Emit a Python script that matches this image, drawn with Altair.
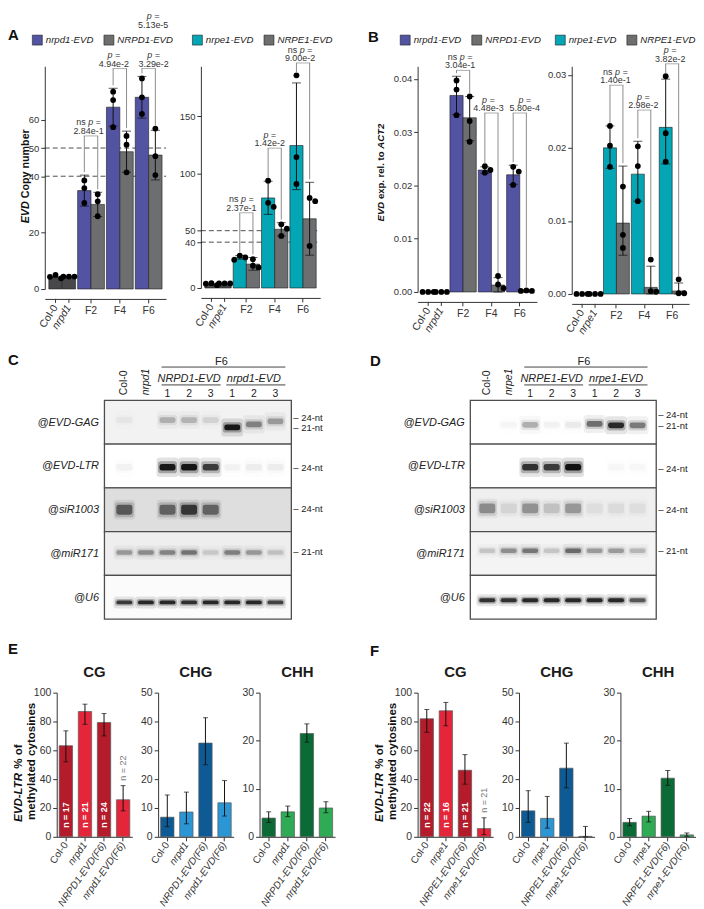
import json
import altair as alt
import pandas as pd

FONT = "Liberation Sans"
INK = "#333333"
DARK = "#111111"

# ======================= Panels A and B (bar + dot plots) =======================
GROUPS = ["ctrl", "F2", "F4", "F6"]
SLOT_GROUP = ["ctrl", "ctrl", "F2", "F2", "F4", "F4", "F6", "F6"]
SLOT_SIDE = [0, 1, 0, 1, 0, 1, 0, 1]

# A left: EVD copy number (nrpd1)
A1_geno = ["Col-0", "nrpd1", "nrpd1-EVD", "NRPD1-EVD", "nrpd1-EVD", "NRPD1-EVD", "nrpd1-EVD", "NRPD1-EVD"]
A1_mean = [4.3, 4.3, 34.9, 30.0, 64.5, 48.7, 68.0, 47.5]
A1_lo = [None, None, 29.4, 25.7, 57.8, 41.4, 60.6, 38.7]
A1_hi = [None, None, 40.4, 34.3, 71.2, 56.0, 75.4, 56.3]
A1_pts = [[5.0, 3.8, 4.3], [4.4, 4.4, 4.4], [38.5, 35.8, 30.5], [33.6, 31.1, 25.8],
          [70.0, 67.0, 57.4], [54.3, 51.2, 41.4], [74.7, 68.0, 62.1], [56.9, 47.1, 40.4]]
A1_br_group = ["F2", "F4", "F6"]
A1_br_top = [54.3, 78.2, 78.2]
A1_br_ns = [True, False, False]
A1_br_p = ["2.84e-1", "4.94e-2", "3.29e-2"]
A1_br_dx = [-2.5, -6.0, 5.0]
A1_dashed = [40, 50]
A1_ticks = [0, 20, 40, 50, 60]

# A right: EVD copy number (nrpe1)
A2_geno = ["Col-0", "nrpe1", "nrpe1-EVD", "NRPE1-EVD", "nrpe1-EVD", "NRPE1-EVD", "nrpe1-EVD", "NRPE1-EVD"]
A2_mean = [3.5, 4.0, 26.8, 20.8, 78.6, 51.2, 124.3, 60.4]
A2_lo = [None, None, 25.2, 15.5, 64.2, 45.4, 85.8, 28.6]
A2_hi = [None, None, 28.4, 26.6, 93.1, 57.0, 178.9, 92.2]
A2_pts = [[4.2, 2.5, 3.8], [4.0, 4.0, 4.0], [28.3, 26.6, 24.6], [25.1, 19.4, 17.9],
          [93.6, 74.3, 70.8], [55.5, 51.7, 45.4], [185.5, 114.2, 90.8], [78.6, 75.7, 36.7]]
A2_br_group = ["F2", "F4", "F6"]
A2_br_top = [65.6, 122.0, 196.3]
A2_br_ns = [True, False, True]
A2_br_p = ["2.37e-1", "1.42e-2", "9.00e-2"]
A2_br_dx = [-5.0, -5.0, -3.0]
A2_dashed = [40, 50]
A2_ticks = [0, 40, 50, 100, 150]

# B left: EVD expression relative to ACT2 (nrpd1)
B1_geno = A1_geno
B1_mean = [0.0, 0.0, 0.0369, 0.0327, 0.0229, 0.0013, 0.0220, 0.0002]
B1_lo = [None, None, 0.0333, 0.0284, 0.0223, 0.0, 0.0202, 0.0]
B1_hi = [None, None, 0.0405, 0.0367, 0.0235, 0.0027, 0.0238, 0.0004]
B1_pts = [[0, 0, 0], [0, 0, 0], [0.0397, 0.0380, 0.0332], [0.0367, 0.0321, 0.0282],
          [0.0236, 0.0229, 0.0224], [0.0030, 0.0014, 0.0007], [0.0235, 0.0226, 0.0201], [0.0003, 0.0002, 0.0002]]
B1_br_group = ["F2", "F4", "F6"]
B1_br_top = [0.0416, 0.0336, 0.0336]
B1_br_ns = [True, False, False]
B1_br_p = ["3.04e-1", "4.48e-3", "5.80e-4"]
B1_br_dx = [-3.0, -3.0, 5.0]
B1_ticks = [0, 0.01, 0.02, 0.03, 0.04]

# B right: EVD expression relative to ACT2 (nrpe1)
B2_geno = A2_geno
B2_mean = [0.0, 0.0, 0.0200, 0.0097, 0.0164, 0.0009, 0.0228, 0.0004]
B2_lo = [None, None, 0.0172, 0.0053, 0.0127, 0.0, 0.0178, 0.0]
B2_hi = [None, None, 0.0230, 0.0175, 0.0209, 0.0038, 0.0294, 0.0015]
B2_pts = [[0, 0, 0], [0, 0, 0], [0.0230, 0.0203, 0.0174], [0.0147, 0.0081, 0.0063],
          [0.0202, 0.0175, 0.0127], [0.0047, 0.0004, 0.0003], [0.0298, 0.0220, 0.0181], [0.0020, 0.0001, 0.0001]]
B2_br_group = ["F2", "F4", "F6"]
B2_br_top = [0.02857, 0.02517, 0.0315]
B2_br_ns = [True, False, False]
B2_br_p = ["1.40e-1", "2.98e-2", "3.82e-2"]
B2_br_dx = [-1.0, -1.0, -2.0]
B2_ticks = [0, 0.01, 0.02, 0.03]

# ======================= Panels C and D (northern blots) =======================
PROBES = ["@EVD-GAG", "@EVD-LTR", "@siR1003", "@miR171", "@U6"]
LANES = ["L0", "L1", "L2", "L3", "L4", "L5", "L6", "L7"]
LANE_NUM = ["", "", "1", "2", "3", "1", "2", "3"]

C_head = ["Col-0", "nrpd1"]
C_groups = ["NRPD1-EVD", "nrpd1-EVD"]
C_int = {
    "@EVD-GAG": [0.04, 0.0, 0.22, 0.2, 0.1, 0.95, 0.4, 0.3],
    "@EVD-LTR": [0.04, 0.0, 0.95, 0.97, 0.75, 0.04, 0.05, 0.05],
    "@siR1003": [0.55, 0.0, 0.5, 0.75, 0.5, 0.0, 0.0, 0.0],
    "@miR171": [0.3, 0.35, 0.38, 0.45, 0.12, 0.4, 0.3, 0.15],
    "@U6": [0.75, 0.85, 0.85, 0.8, 0.85, 0.85, 0.85, 0.7],
}
C_gag_pos = [0.45, 0.45, 0.45, 0.45, 0.45, 0.62, 0.55, 0.48]
C_pos = {"@EVD-LTR": 0.53, "@siR1003": 0.5, "@miR171": 0.48, "@U6": 0.62}
C_mk_probe = [0, 0, 1, 2, 3]
C_mk_pos = [0.40, 0.63, 0.54, 0.49, 0.47]
C_mk_text = ["24-nt", "21-nt", "24-nt", "24-nt", "21-nt"]

D_head = ["Col-0", "nrpe1"]
D_groups = ["NRPE1-EVD", "nrpe1-EVD"]
D_int = {
    "@EVD-GAG": [0.0, 0.03, 0.25, 0.04, 0.06, 0.5, 0.85, 0.45],
    "@EVD-LTR": [0.0, 0.0, 0.8, 0.75, 1.0, 0.0, 0.02, 0.02],
    "@siR1003": [0.35, 0.08, 0.32, 0.15, 0.3, 0.05, 0.06, 0.05],
    "@miR171": [0.15, 0.35, 0.45, 0.15, 0.5, 0.3, 0.3, 0.2],
    "@U6": [0.8, 0.8, 0.85, 0.85, 0.85, 0.85, 0.85, 0.6],
}
D_gag_pos = [0.56, 0.56, 0.56, 0.56, 0.56, 0.54, 0.57, 0.57]
D_pos = {"@EVD-LTR": 0.53, "@siR1003": 0.47, "@miR171": 0.44, "@U6": 0.57}
D_mk_probe = [0, 0, 1, 2, 3]
D_mk_pos = [0.33, 0.58, 0.57, 0.50, 0.45]
D_mk_text = ["24-nt", "21-nt", "24-nt", "24-nt", "21-nt"]

# ======================= Panels E and F (methylation) =======================
E_geno = ["Col-0", "nrpd1", "NRPD1-EVD(F6)", "nrpd1-EVD(F6)"]
E_CG = [63.2, 86.9, 79.3, 25.7]
E_CG_lo = [52.0, 78.0, 70.0, 18.0]
E_CG_hi = [73.5, 92.0, 85.5, 35.5]
E_CHG = [6.8, 8.6, 32.5, 11.8]
E_CHG_lo = [3.5, 4.5, 25.0, 7.2]
E_CHG_hi = [14.5, 15.5, 41.3, 19.5]
E_CHH = [3.9, 5.2, 21.5, 6.0]
E_CHH_lo = [3.0, 4.2, 19.7, 5.0]
E_CHH_hi = [5.2, 6.4, 23.5, 7.3]
E_n = [17, 21, 24, 22]

F_geno = ["Col-0", "nrpe1", "NRPE1-EVD(F6)", "nrpe1-EVD(F6)"]
F_CG = [81.9, 87.4, 46.2, 5.7]
F_CG_lo = [72.5, 77.0, 36.5, 1.5]
F_CG_hi = [88.3, 93.2, 57.0, 13.2]
F_CHG = [9.0, 6.4, 23.8, 0.15]
F_CHG_lo = [5.0, 3.0, 17.0, 0.0]
F_CHG_hi = [16.0, 14.0, 32.5, 3.6]
F_CHH = [3.0, 4.3, 12.2, 0.4]
F_CHH_lo = [2.3, 3.1, 10.7, 0.1]
F_CHH_hi = [3.8, 5.3, 13.8, 0.8]
F_n = [22, 16, 21, 21]

# ---------------- styles ----------------
COL_CTRL = "#48484a"
COL_GREY = "#6d6e70"
COL_BLUE = "#5253a3"
COL_TEAL = "#04a5b4"
CG_COLS = ["#b41c2c", "#e5263a", "#b41c2c", "#e5263a"]
CHG_COLS = ["#0d5a94", "#2c96d4", "#0d5a94", "#2c96d4"]
CHH_COLS = ["#0b6b37", "#2faa55", "#0b6b37", "#2faa55"]
C_bg = ["#f2f2f2", "#ffffff", "#dedede", "#eeeeee", "#fbfbfb"]
D_bg = ["#ffffff", "#ffffff", "#efefef", "#f4f4f4", "#ffffff"]
# band half-height (relative to band half-width) per probe: GAG, LTR, siR1003, miR171, U6
BAND_HH = [0.36, 0.42, 0.62, 0.28, 0.24]

BOLD_W = {" ": .278, ".": .278, "%": .889, "-": .333, "2": .556, "A": .722, "C": .722, "D": .722,
          "E": .667, "L": .611, "R": .722, "T": .611, "V": .667, "a": .556, "b": .611, "c": .556,
          "d": .611, "e": .556, "f": .333, "h": .611, "i": .278, "l": .278, "m": .889, "n": .611,
          "o": .611, "p": .611, "r": .389, "s": .556, "t": .333, "u": .611, "x": .556, "y": .556}


def text_w(s, size):
    return sum(BOLD_W.get(c, 0.6) for c in s) * size


def rot_title(parts, x, y_start, size):
    layers = []
    y = y_start
    for k, (text, it) in enumerate(parts):
        if k > 0:
            y -= 0.278 * size
        layers.append(
            alt.Chart(pd.DataFrame({"t": [text]})).mark_text(
                angle=270, align="left", baseline="middle", fontSize=size, fontWeight="bold",
                fontStyle="italic" if it else "normal", color=DARK)
            .encode(text="t:N", x=alt.value(x), y=alt.value(y)))
        y -= text_w(text, size)
    return layers


def letter(t, x, y):
    return alt.Chart(pd.DataFrame({"t": [t]})).mark_text(
        fontSize=15, fontWeight="bold", align="left", baseline="alphabetic", color=DARK
    ).encode(text="t:N", x=alt.value(x), y=alt.value(y))


def bar_panel(geno, mean, lo, hi, pts, mut, wt, mut_color, width, height, ymax, yticks, yfmt,
              dashed, br_group, br_top, br_ns, br_p, br_dx, legend_x, extra):
    pi, po = 0.07, 0.14
    step = width / (len(GROUPS) - pi + 2 * po)
    bw = step * (1 - pi)
    half = bw / 2.0
    pxu = height / ymax
    xo_scale = alt.Scale(domain=[-1, 1], range=[0, bw])
    x_enc = alt.X("grp:N", scale=alt.Scale(domain=GROUPS, paddingInner=pi, paddingOuter=po),
                  axis=alt.Axis(title=None, labelExpr="datum.value == 'ctrl' ? '' : datum.value",
                                labelAngle=0, labelFontSize=10.5, offset=10, tickSize=4,
                                labelPadding=3,
                                tickOpacity={"condition": {"test": "datum.value == 'ctrl'", "value": 0},
                                             "value": 1}))
    y_scale = alt.Scale(domain=[0, ymax], nice=False, zero=True)
    y_axis = alt.Axis(title=None, values=yticks, format=yfmt, labelFontSize=9.5, tickSize=4,
                      labelPadding=2, labelOverlap=False, grid=False)

    def Y(f):
        return alt.Y(f"{f}:Q", scale=y_scale, axis=y_axis)

    def XO(f):
        return alt.XOffset(f"{f}:Q", scale=xo_scale)

    bars = pd.DataFrame({"grp": SLOT_GROUP, "side": SLOT_SIDE, "geno": geno, "mean": mean})
    bars = bars[bars["mean"] > 0]
    dom = [geno[0], geno[1], mut, wt]
    rng = [COL_CTRL, COL_CTRL, mut_color, COL_GREY]
    bar_layer = alt.Chart(bars).mark_bar(stroke="#1e1e1e", strokeWidth=0.6).encode(
        x=x_enc,
        xOffset=alt.XOffset("side:N", scale=alt.Scale(domain=[0, 1], paddingInner=0, paddingOuter=0)),
        y=Y("mean"),
        color=alt.Color("geno:N", scale=alt.Scale(domain=dom, range=rng),
                        legend=alt.Legend(title=None, values=[mut, wt], orient="none",
                                          legendX=legend_x, legendY=-32, direction="horizontal",
                                          symbolType="square", symbolSize=100,
                                          symbolStrokeColor="#1e1e1e", symbolStrokeWidth=0.6,
                                          labelFontSize=9.7, labelFontStyle="italic",
                                          labelColor="#222", labelOffset=3, columnPadding=9,
                                          padding=0)))

    err = pd.DataFrame({"grp": SLOT_GROUP, "xo": [s - 0.5 for s in SLOT_SIDE], "lo": lo, "hi": hi}).dropna()
    err_rule = alt.Chart(err).mark_rule(color=DARK, strokeWidth=1).encode(
        x=x_enc, xOffset=XO("xo"), y=Y("lo"), y2="hi:Q")
    cap_hi = alt.Chart(err).mark_tick(orient="horizontal", size=9, thickness=1, color=DARK).encode(
        x=x_enc, xOffset=XO("xo"), y=Y("hi"))
    cap_lo = alt.Chart(err).mark_tick(orient="horizontal", size=9, thickness=1, color=DARK).encode(
        x=x_enc, xOffset=XO("xo"), y=Y("lo"))

    # simple beeswarm so that overlapping replicate dots sit side by side
    d = 5.6
    prow = []
    for g, s, vals in zip(SLOT_GROUP, SLOT_SIDE, pts):
        placed = []
        for v in vals:
            yy = v * pxu
            for off in [0, d, -d, 2 * d, -2 * d]:
                if all((off - o) ** 2 + (yy - q) ** 2 >= (0.95 * d) ** 2 for o, q in placed):
                    break
            placed.append((off, yy))
            prow.append({"grp": g, "xo": (s - 0.5) + off / half, "val": v})
    pt = pd.DataFrame(prow)
    pt_layer = alt.Chart(pt).mark_circle(size=34, color="#000", opacity=1).encode(
        x=x_enc, xOffset=XO("xo"), y=Y("val"))

    layers = [bar_layer, err_rule, cap_hi, cap_lo, pt_layer]

    if dashed:
        layers.insert(0, alt.Chart(pd.DataFrame({"v": dashed})).mark_rule(
            color="#222", strokeDash=[5, 3], strokeWidth=0.8).encode(
            x=alt.value(0), x2=alt.value(width), y=Y("v")))

    # significance brackets
    gap = 3.0 / pxu
    tops = {}
    for i, (g, s) in enumerate(zip(SLOT_GROUP, SLOT_SIDE)):
        cand = list(pts[i]) + ([hi[i]] if hi[i] is not None else [])
        tops[(g, s)] = max(cand) + gap
    br = pd.DataFrame({"grp": br_group, "top": br_top, "p": br_p, "ns": br_ns})
    br["lb"] = [tops[(g, 0)] for g in br_group]
    br["rb"] = [tops[(g, 1)] for g in br_group]
    br["xl"] = -0.5
    br["xr"] = 0.5
    br["xc"] = 0.0
    br["xt"] = [dx / half for dx in br_dx]
    BRC = "#8c8c8c"
    layers += [
        alt.Chart(br).mark_rule(color=BRC, strokeWidth=1).encode(x=x_enc, xOffset=XO("xl"), y=Y("top"), y2="lb:Q"),
        alt.Chart(br).mark_rule(color=BRC, strokeWidth=1).encode(x=x_enc, xOffset=XO("xr"), y=Y("top"), y2="rb:Q"),
        alt.Chart(br).mark_tick(orient="horizontal", size=half + 1, thickness=1, color=BRC).encode(
            x=x_enc, xOffset=XO("xc"), y=Y("top")),
        alt.Chart(br).mark_text(fontSize=9, color=INK, baseline="alphabetic", dy=-2).encode(
            x=x_enc, xOffset=XO("xt"), y=Y("top"), text="p:N"),
    ]
    br_ns_df = br[br["ns"]]
    br_s_df = br[~br["ns"]]
    if len(br_s_df):
        layers.append(alt.Chart(br_s_df).mark_text(fontSize=9, color=INK, fontStyle="italic",
                                                   baseline="alphabetic", dy=-10.5).encode(
            x=x_enc, xOffset=XO("xt"), y=Y("top"), text=alt.value("p =")))
    if len(br_ns_df):
        layers.append(alt.Chart(br_ns_df).mark_text(fontSize=9, color=INK, align="right",
                                                    baseline="alphabetic", dx=-2.9, dy=-10.5).encode(
            x=x_enc, xOffset=XO("xt"), y=Y("top"), text=alt.value("ns")))
        layers.append(alt.Chart(br_ns_df).mark_text(fontSize=9, color=INK, align="left", fontStyle="italic",
                                                    baseline="alphabetic", dx=-0.4, dy=-10.5).encode(
            x=x_enc, xOffset=XO("xt"), y=Y("top"), text=alt.value("p =")))

    # rotated control labels under the axis
    ctrl = pd.DataFrame({"grp": ["ctrl", "ctrl"], "xo": [-0.5, 0.5], "lab": [geno[0], geno[1]]})
    layers += [
        alt.Chart(ctrl.iloc[[0]]).mark_text(angle=302, align="right", baseline="middle", fontSize=10.5,
                                            color=INK).encode(
            x=x_enc, xOffset=XO("xo"), y=alt.value(height + 17), text="lab:N"),
        alt.Chart(ctrl.iloc[[1]]).mark_text(angle=302, align="right", baseline="middle", fontSize=10.5,
                                            fontStyle="italic", color=INK).encode(
            x=x_enc, xOffset=XO("xo"), y=alt.value(height + 17), text="lab:N"),
        alt.Chart(ctrl).mark_rule(color=INK).encode(
            x=x_enc, xOffset=XO("xo"), y=alt.value(height + 10), y2=alt.value(height + 14)),
    ]
    layers += extra
    return alt.layer(*layers).properties(width=width, height=height).resolve_scale(xOffset="independent")


def rr_path(hh, w=1.0):
    r = min(hh, 0.3 * w)
    return (f"M{-w + r},{-hh} L{w - r},{-hh} Q{w},{-hh} {w},{-hh + r} L{w},{hh - r} Q{w},{hh} {w - r},{hh} "
            f"L{-w + r},{hh} Q{-w},{hh} {-w},{hh - r} L{-w},{-hh + r} Q{-w},{-hh} {-w + r},{-hh} Z")


def blot_panel(head, groups, intens, gag_pos, pos, bg, mk_probe, mk_pos, mk_text, let, width, height, align):
    n = len(LANES)
    po = 0.33
    step = width / (n + 2 * po)
    xs = alt.Scale(domain=LANES, paddingInner=0, paddingOuter=po, align=align)
    x_enc = alt.X("lane:N", scale=xs, axis=None)
    ys = alt.Scale(domain=[0, len(PROBES)], nice=False, zero=False, reverse=True)
    y_axis = alt.Axis(title=None, values=[i + 0.5 for i in range(len(PROBES))],
                      labelExpr=json.dumps(PROBES) + "[floor(datum.value)]",
                      labelFontSize=11, labelFontStyle="italic", labelColor="#222", labelPadding=6,
                      ticks=False, domain=False, grid=False, labelOverlap=False)

    def Y(f):
        return alt.Y(f"{f}:Q", scale=ys, axis=y_axis)

    frames = pd.DataFrame({"y0": list(range(len(PROBES))), "y1": [i + 1 for i in range(len(PROBES))], "bg": bg})
    frame_layer = alt.Chart(frames).mark_rect(stroke="#4d4d4d", strokeWidth=1.3).encode(
        x=alt.value(0), x2=alt.value(width), y=Y("y0"), y2="y1:Q",
        fill=alt.Fill("bg:N", scale=None))

    band_layers = []
    for i, p in enumerate(PROBES):
        rows = []
        for j, lane in enumerate(LANES):
            pp = gag_pos[j] if p == "@EVD-GAG" else pos[p]
            a = intens[p][j]
            rows.append({"lane": lane, "yy": i + pp, "a": a, "m": 0.32 * a, "o": 0.13 * a})
        bd = pd.DataFrame(rows)
        hh = BAND_HH[i]
        for path, size, field in [(rr_path(min(hh * 2.3, 0.9), 1.0), 22 ** 2, "o"),
                                  (rr_path(min(hh * 1.5, 0.8), 1.0), 19 ** 2, "m"),
                                  (rr_path(hh, 1.0), 16 ** 2, "a")]:
            band_layers.append(
                alt.Chart(bd).mark_point(shape=path, filled=True, size=size, strokeWidth=0, color=DARK).encode(
                    x=x_enc, y=Y("yy"), opacity=alt.Opacity(f"{field}:Q", scale=None)))

    mk = pd.DataFrame({"yy": [i + p for i, p in zip(mk_probe, mk_pos)], "t": ["\u2013 " + t for t in mk_text]})
    mk_layer = alt.Chart(mk).mark_text(align="left", baseline="middle", fontSize=9.5, color="#222").encode(
        x=alt.value(width + 2), y=Y("yy"), text="t:N")

    head0 = pd.DataFrame({"lane": [LANES[0]], "t": [head[0]]})
    head1 = pd.DataFrame({"lane": [LANES[1]], "t": [head[1]]})
    nums = pd.DataFrame({"lane": LANES[2:], "t": LANE_NUM[2:]})
    grp = pd.DataFrame({"lane": [LANES[3], LANES[6]], "t": groups,
                        "l1": [LANES[2], LANES[5]], "l2": [LANES[4], LANES[7]]})
    f6 = pd.DataFrame({"lane": [LANES[4]], "t": ["F6"], "l1": [LANES[2]], "l2": [LANES[7]]})
    hdr = [
        alt.Chart(head0).mark_text(angle=270, align="left", baseline="middle", fontSize=10.5, color="#222").encode(
            x=x_enc, y=alt.value(-5), text="t:N"),
        alt.Chart(head1).mark_text(angle=270, align="left", baseline="middle", fontSize=10.5, fontStyle="italic",
                                   color="#222").encode(x=x_enc, y=alt.value(-5), text="t:N"),
        alt.Chart(nums).mark_text(baseline="alphabetic", fontSize=10.5, color="#222").encode(
            x=x_enc, y=alt.value(-3), text="t:N"),
        alt.Chart(grp).mark_text(baseline="alphabetic", fontSize=11, fontStyle="italic", color="#222").encode(
            x=x_enc, y=alt.value(-18), text="t:N"),
        alt.Chart(grp).mark_rule(color="#444", strokeWidth=1, xOffset=-6, x2Offset=10).encode(
            x=alt.X("l1:N", scale=xs, axis=None), x2="l2:N", y=alt.value(-15.5)),
        alt.Chart(f6).mark_text(baseline="alphabetic", fontSize=11, color="#222", dx=step / 2).encode(
            x=x_enc, y=alt.value(-36), text="t:N"),
        alt.Chart(f6).mark_rule(color="#444", strokeWidth=1, xOffset=-6, x2Offset=10).encode(
            x=alt.X("l1:N", scale=xs, axis=None), x2="l2:N", y=alt.value(-33.5)),
    ]
    layers = [frame_layer] + band_layers + [mk_layer] + hdr + [let]
    return alt.layer(*layers).properties(width=width, height=height)


def meth_panel(genos, vals, lo, hi, colors, ymax, ystep, title, nvals=None, extra=(), width=76, height=145):
    x_enc = alt.X("geno:N", scale=alt.Scale(domain=genos, paddingInner=0.3, paddingOuter=0.13),
                  axis=alt.Axis(title=None, labelAngle=-55, labelFontSize=10, labelColor=INK, tickSize=4,
                                labelPadding=2,
                                labelFontStyle={"condition": {"test": "datum.value == 'Col-0'", "value": "normal"},
                                                "value": "italic"}))
    y_scale = alt.Scale(domain=[0, ymax], nice=False)
    y_axis = alt.Axis(title=None, values=list(range(0, ymax + 1, ystep)), labelFontSize=10.5, tickSize=4,
                      labelPadding=2, grid=False)

    def Y(f):
        return alt.Y(f"{f}:Q", scale=y_scale, axis=y_axis)

    df = pd.DataFrame({"geno": genos, "val": vals, "lo": lo, "hi": hi})
    layers = [
        alt.Chart(df).mark_bar(stroke="#5a5a5a", strokeWidth=0.7).encode(
            x=x_enc, y=Y("val"),
            color=alt.Color("geno:N", scale=alt.Scale(domain=genos, range=colors), legend=None)),
        alt.Chart(df).mark_rule(color=DARK, strokeWidth=1).encode(x=x_enc, y=Y("lo"), y2="hi:Q"),
        alt.Chart(df).mark_tick(orient="horizontal", size=5, thickness=1, color=DARK).encode(x=x_enc, y=Y("hi")),
        alt.Chart(df).mark_tick(orient="horizontal", size=5, thickness=1, color=DARK).encode(x=x_enc, y=Y("lo")),
        alt.Chart(pd.DataFrame({"t": [title]})).mark_text(
            fontSize=15, fontWeight="bold", align="center", baseline="alphabetic", color="#1a1a1a").encode(
            text="t:N", x=alt.value(width / 2), y=alt.value(-16)),
    ]
    if nvals is not None:
        nd = pd.DataFrame({"geno": genos, "t": [f"n = {v}" for v in nvals], "hi": hi})
        layers.append(alt.Chart(nd.iloc[:3]).mark_text(angle=270, align="left", baseline="middle", fontSize=9,
                                                      fontWeight="bold", color="white").encode(
            x=x_enc, y=alt.value(height - 9), text="t:N"))
        layers.append(alt.Chart(nd.iloc[3:]).mark_text(angle=270, align="left", baseline="middle", fontSize=9,
                                                      color="#7a7a7a", yOffset=-5).encode(
            x=x_enc, y=Y("hi"), text="t:N"))
    layers += list(extra)
    return alt.layer(*layers).properties(width=width, height=height)


def spacer(w):
    return alt.Chart(pd.DataFrame({"a": [0]})).mark_point(opacity=0, size=1).encode(
        x=alt.value(w / 2), y=alt.value(5)).properties(width=w, height=10)


# invisible anchor fixing the top edge of the figure
top_anchor = alt.Chart(pd.DataFrame({"a": [0]})).mark_rule(strokeOpacity=0, strokeWidth=1).encode(
    x=alt.value(0), x2=alt.value(1), y=alt.value(-55.5))

# ---------------- build panels ----------------
A1 = bar_panel(A1_geno, A1_mean, A1_lo, A1_hi, A1_pts, "nrpd1-EVD", "NRPD1-EVD", COL_BLUE,
               122, 224, 79.0, A1_ticks, "d", A1_dashed, A1_br_group, A1_br_top, A1_br_ns, A1_br_p, A1_br_dx, -13,
               [letter("A", -37, -26), top_anchor]
               + rot_title([("EVD", True), ("Copy number", False)], -19, 158, 10.8)
               + [alt.Chart(pd.DataFrame({"t": ["p ="]})).mark_text(fontSize=9, fontStyle="italic", color=INK,
                                                                     baseline="alphabetic").encode(
                   text="t:N", x=alt.value(109), y=alt.value(-48)),
                  alt.Chart(pd.DataFrame({"t": ["5.13e-5"]})).mark_text(fontSize=9, color=INK,
                                                                        baseline="alphabetic").encode(
                      text="t:N", x=alt.value(109), y=alt.value(-39))])
A2 = bar_panel(A2_geno, A2_mean, A2_lo, A2_hi, A2_pts, "nrpe1-EVD", "NRPE1-EVD", COL_TEAL,
               120, 223, 193.4, A2_ticks, "d", A2_dashed, A2_br_group, A2_br_top, A2_br_ns, A2_br_p, A2_br_dx, -9, [])
B1 = bar_panel(B1_geno, B1_mean, B1_lo, B1_hi, B1_pts, "nrpd1-EVD", "NRPD1-EVD", COL_BLUE,
               120, 227, 0.04237, B1_ticks, ".2f", [], B1_br_group, B1_br_top, B1_br_ns, B1_br_p, B1_br_dx, -18,
               [letter("B", -50, -24)]
               + rot_title([("EVD", True), ("exp. rel. to", False), ("ACT2", True)], -37, 156, 9.6))
B2 = bar_panel(B2_geno, B2_mean, B2_lo, B2_hi, B2_pts, "nrpe1-EVD", "NRPE1-EVD", COL_TEAL,
               118, 229, 0.03116, B2_ticks, ".2f", [], B2_br_group, B2_br_top, B2_br_ns, B2_br_p, B2_br_dx, -17, [])

C = blot_panel(C_head, C_groups, C_int, C_gag_pos, C_pos, C_bg, C_mk_probe, C_mk_pos, C_mk_text,
               letter("C", -97, -36), 188, 220, 0.64)
D = blot_panel(D_head, D_groups, D_int, D_gag_pos, D_pos, D_bg, D_mk_probe, D_mk_pos, D_mk_text,
               letter("D", -101, -35), 187, 220, 0.44)

E_title = (rot_title([("EVD-LTR", True), ("% of", False)], -38, 130, 11.6)
           + rot_title([("methylated cytosines", False)], -25, 128, 11.6))
F_title = (rot_title([("EVD-LTR", True), ("% of", False)], -38, 130, 11.6)
           + rot_title([("methylated cytosines", False)], -25, 128, 11.6))

E1 = meth_panel(E_geno, E_CG, E_CG_lo, E_CG_hi, CG_COLS, 100, 20, "CG", E_n,
                [letter("E", -49, -39)] + E_title)
E2 = meth_panel(E_geno, E_CHG, E_CHG_lo, E_CHG_hi, CHG_COLS, 50, 10, "CHG")
E3 = meth_panel(E_geno, E_CHH, E_CHH_lo, E_CHH_hi, CHH_COLS, 30, 10, "CHH")
F1 = meth_panel(F_geno, F_CG, F_CG_lo, F_CG_hi, CG_COLS, 100, 20, "CG", F_n,
                [letter("F", -48, -37)] + F_title)
F2 = meth_panel(F_geno, F_CHG, F_CHG_lo, F_CHG_hi, CHG_COLS, 50, 10, "CHG")
F3 = meth_panel(F_geno, F_CHH, F_CHH_lo, F_CHH_hi, CHH_COLS, 30, 10, "CHH")

RES = dict(color="independent", x="independent", y="independent", opacity="independent")

row1 = alt.hconcat(spacer(2), A1, A2, spacer(28), B1, B2, spacing=35, bounds="flush").resolve_scale(**RES)
row2 = alt.hconcat(spacer(50), C, spacer(86), D, spacing=47, bounds="flush").resolve_scale(**RES)
row3 = alt.hconcat(spacer(23), E1, E2, E3, spacer(31), F1, F2, F3, spacing=26, bounds="flush").resolve_scale(**RES)

top = alt.vconcat(row1, row2, spacing=16).resolve_scale(**RES)
chart = alt.vconcat(top, row3, spacing=22).resolve_scale(**RES).properties(
    padding={"left": 0, "top": 0, "right": 0, "bottom": 0}
).configure(font=FONT).configure_view(stroke=None).configure_axis(
    domainColor=INK, tickColor=INK, labelColor=INK, domainWidth=1, tickWidth=1, grid=False
)

chart.save("out.html", embed_options={"renderer": "svg", "actions": False})
